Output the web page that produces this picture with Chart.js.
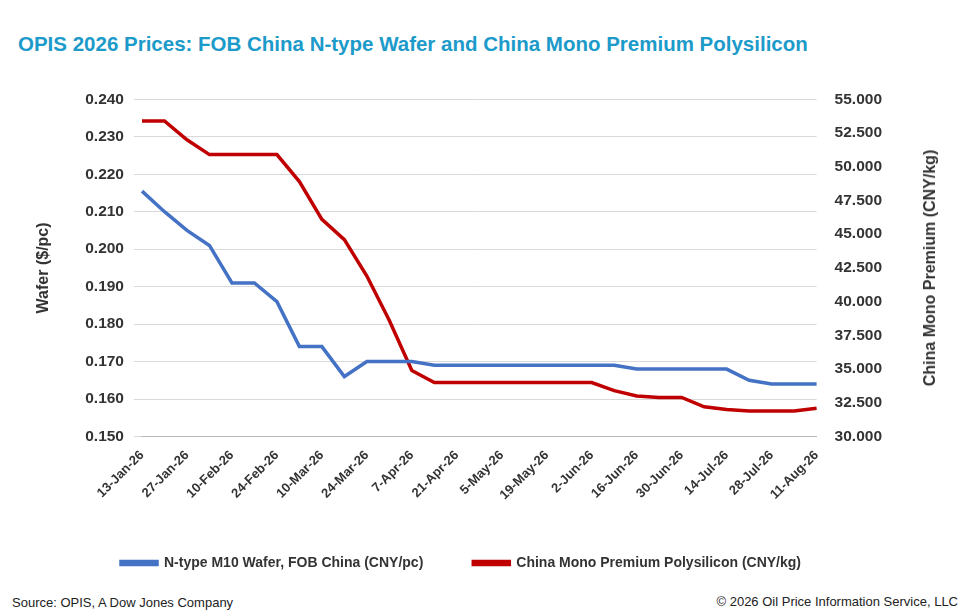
<!DOCTYPE html>
<html><head><meta charset="utf-8">
<script src="https://cdn.jsdelivr.net/npm/chart.js@4"></script>
<style>
body{margin:0;background:#fff;font-family:Arial,"Liberation Sans",sans-serif;}
#wrap{position:relative;width:970px;height:613px;}
#title{position:absolute;left:18px;top:32px;font-size:20.5px;font-weight:bold;color:#1c9ac9;}
#src{position:absolute;left:12px;top:595px;font-size:13px;color:#222;}
#copy{position:absolute;right:12px;top:594px;font-size:13px;color:#222;}
#box{position:absolute;left:30px;top:80px;width:920px;height:500px;}
#rt{position:absolute;left:930px;top:268px;transform:translate(-50%,-50%) rotate(-90deg);white-space:nowrap;font-size:16px;font-weight:bold;color:#333;}
</style></head><body>
<div id="wrap">
<div id="title">OPIS 2026 Prices: FOB China N-type Wafer and China Mono Premium Polysilicon</div>
<div id="box"><canvas id="c"></canvas></div>
<div id="rt">China Mono Premium (CNY/kg)</div>
<div id="src">Source: OPIS, A Dow Jones Company</div>
<div id="copy">© 2026 Oil Price Information Service, LLC</div>
</div>
<script>
const weeks = ['13-Jan-26','20-Jan-26','27-Jan-26','3-Feb-26','10-Feb-26','17-Feb-26','24-Feb-26','3-Mar-26','10-Mar-26','17-Mar-26','24-Mar-26','31-Mar-26','7-Apr-26','14-Apr-26','21-Apr-26','28-Apr-26','5-May-26','12-May-26','19-May-26','26-May-26','2-Jun-26','9-Jun-26','16-Jun-26','23-Jun-26','30-Jun-26','7-Jul-26','14-Jul-26','21-Jul-26','28-Jul-26','4-Aug-26','11-Aug-26'];
const wafer = [0.2155,0.210,0.205,0.201,0.191,0.191,0.186,0.174,0.174,0.166,0.170,0.170,0.170,0.169,0.169,0.169,0.169,0.169,0.169,0.169,0.169,0.169,0.168,0.168,0.168,0.168,0.168,0.165,0.164,0.164,0.164];
const poly = [53.4,53.4,52.0,50.9,50.9,50.9,50.9,48.9,46.1,44.6,41.9,38.6,34.9,34.0,34.0,34.0,34.0,34.0,34.0,34.0,34.0,33.4,33.0,32.9,32.9,32.2,32.0,31.9,31.9,31.9,32.1];
const font = {family:'Arial, "Liberation Sans", sans-serif', size:15.5, weight:'bold'};
new Chart(document.getElementById('c'), {
  type:'line',
  data:{labels:weeks,datasets:[
    {label:'N-type M10 Wafer, FOB China (CNY/pc)',data:wafer,borderColor:'#4472c4',backgroundColor:'#4472c4',borderWidth:3.5,pointRadius:0,yAxisID:'y',tension:0},
    {label:'China Mono Premium Polysilicon (CNY/kg)',data:poly,borderColor:'#c00000',backgroundColor:'#c00000',borderWidth:3.5,pointRadius:0,yAxisID:'y1',tension:0}
  ]},
  options:{responsive:true,maintainAspectRatio:false,animation:false,
    layout:{padding:{top:10,left:0,right:58}},
    plugins:{legend:{position:'bottom',labels:{boxWidth:36,boxHeight:3,padding:50,color:'#333',font:{...font,size:14}}}},
    scales:{
      x:{grid:{display:false},border:{color:'#bbb'},ticks:{autoSkip:false,maxRotation:45,minRotation:45,color:'#333',font:{...font,size:13},
        callback:(v,i)=>i%2===0?weeks[i]:''}},
      y:{min:0.15,max:0.24,grid:{color:'#d9d9d9'},border:{display:false},
        title:{display:true,text:'Wafer ($/pc)',color:'#333',font:{...font,size:16},padding:{bottom:22}},
        ticks:{stepSize:0.01,color:'#333',font:font,padding:10,callback:v=>v.toFixed(3)}},
      y1:{position:'right',min:30,max:55,grid:{display:false},border:{display:false},
        ticks:{stepSize:2.5,color:'#333',font:font,padding:10,callback:v=>v.toFixed(3).replace(/\B(?=(\d{3})+(?!\d))/,',').replace(',','.')}}
    }}
});
</script>
</body></html>
